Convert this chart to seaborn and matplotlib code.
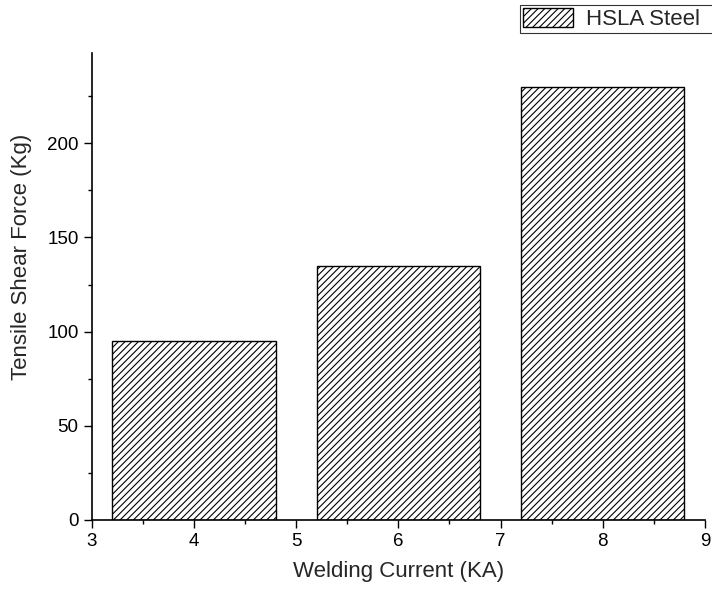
import matplotlib
matplotlib.use("Agg")
import matplotlib.pyplot as plt
import seaborn as sns
import pandas as pd

currents = [4, 6, 8]
forces = [95, 135, 230]
series = "HSLA Steel"

sns.set_style("ticks")
plt.rcParams['font.family'] = ['Liberation Sans', 'DejaVu Sans']
plt.rcParams['hatch.linewidth'] = 0.8

df = pd.DataFrame({"Welding Current (KA)": currents, "Tensile Shear Force (Kg)": forces})

fig = plt.figure(figsize=(7.12, 5.94), dpi=100)
ax = fig.add_axes([0.129, 0.1246, 0.861, 0.7865])
sns.barplot(data=df, x="Welding Current (KA)", y="Tensile Shear Force (Kg)",
            native_scale=True, width=0.8, color="white", edgecolor="black",
            linewidth=1.0, ax=ax)
for p in ax.patches:
    p.set_hatch("/////")
if ax.get_legend() is not None:
    ax.get_legend().remove()

ax.set_xlim(3, 9)
ax.set_ylim(0, 248)
ax.set_xticks([3, 4, 5, 6, 7, 8, 9])
ax.set_xticks([3.5, 4.5, 5.5, 6.5, 7.5, 8.5], minor=True)
ax.set_yticks([0, 50, 100, 150, 200])
ax.set_yticks([25, 75, 125, 175, 225], minor=True)
ax.tick_params(axis='both', which='major', direction='out', length=6, width=1, labelsize=13.5, color='black', labelcolor='black')
ax.tick_params(axis='both', which='minor', direction='out', length=3, width=1, color='black')
for s in ['top', 'right']:
    ax.spines[s].set_visible(False)
for s in ['left', 'bottom']:
    ax.spines[s].set_color('black')
    ax.spines[s].set_linewidth(1.2)
ax.set_xlabel("Welding Current (KA)", fontsize=16, labelpad=8)
ax.set_ylabel("Tensile Shear Force (Kg)", fontsize=16)
ax.yaxis.set_label_coords(-0.098, 0.563)

leg = fig.legend(handles=[ax.patches[0]], labels=[series], loc='upper left',
                 bbox_to_anchor=(0.730, 0.94, 0.28, 0.052), mode='expand',
                 fontsize=16, frameon=True,
                 fancybox=False, edgecolor='black', borderpad=0.15,
                 handlelength=2.25, handleheight=0.9, handletextpad=0.6, borderaxespad=0)
leg.get_frame().set_linewidth(0.8)

fig.savefig("out.png", dpi=100)
